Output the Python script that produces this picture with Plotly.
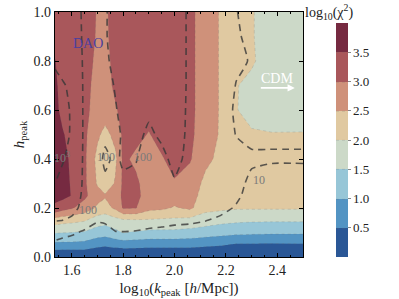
import numpy as np
import plotly.graph_objects as go

# log10(k_peak) grid and h_peak grid
log_k = [1.535, 1.565, 1.60, 1.65, 1.70, 1.73, 1.77, 1.80, 1.85, 1.90, 1.95,
         2.00, 2.06, 2.12, 2.18, 2.24, 2.30, 2.38, 2.50]
h_peak = [0.0, 0.05, 0.10, 0.15, 0.20, 0.25, 0.30, 0.40, 0.50, 0.60, 0.70, 0.80, 0.90, 1.00]

# filled field: log10(chi^2), one list per log_k column (bottom -> top)
log_chi2_cols = [
    [0.0, 0.86, 1.54, 2.30, 3.40, 3.65, 3.70, 3.75, 3.70, 3.65, 3.60, 3.52, 3.30, 3.25],
    [0.0, 0.85, 1.52, 2.20, 3.20, 3.65, 3.70, 3.68, 3.55, 3.35, 3.30, 3.30, 3.30, 3.30],
    [0.0, 0.85, 1.50, 2.15, 3.05, 3.48, 3.45, 3.40, 3.30, 3.30, 3.30, 3.30, 3.30, 3.30],
    [0.02, 0.82, 1.45, 2.05, 2.80, 3.10, 3.10, 3.10, 3.10, 3.10, 3.15, 3.20, 3.25, 3.25],
    [0.0, 0.64, 1.28, 1.74, 2.41, 2.70, 2.45, 2.35, 2.60, 2.85, 2.85, 2.90, 2.95, 2.97],
    [0.0, 0.58, 1.23, 1.68, 2.30, 2.55, 2.20, 2.10, 2.35, 2.75, 2.80, 2.85, 2.90, 2.92],
    [0.0, 0.67, 1.38, 1.83, 2.60, 2.75, 2.55, 2.40, 2.65, 2.95, 3.10, 3.15, 3.20, 3.20],
    [0.0, 0.72, 1.52, 1.93, 3.05, 3.10, 3.10, 3.10, 3.10, 3.15, 3.20, 3.25, 3.25, 3.25],
    [0.0, 0.70, 1.45, 1.95, 3.02, 3.15, 3.10, 2.90, 3.15, 3.30, 3.30, 3.30, 3.30, 3.30],
    [0.0, 0.67, 1.38, 1.95, 2.65, 2.75, 2.75, 2.80, 2.97, 3.20, 3.30, 3.30, 3.30, 3.30],
    [0.0, 0.67, 1.38, 1.92, 2.60, 2.85, 2.98, 2.95, 3.20, 3.30, 3.30, 3.30, 3.30, 3.30],
    [0.0, 0.67, 1.38, 1.90, 2.45, 2.75, 2.95, 3.20, 3.25, 3.25, 3.25, 3.25, 3.25, 3.25],
    [0.0, 0.66, 1.33, 1.85, 2.60, 2.70, 2.75, 3.05, 3.10, 3.10, 3.10, 3.10, 3.10, 3.10],
    [0.0, 0.60, 1.25, 1.75, 2.15, 2.30, 2.40, 2.60, 2.75, 2.80, 2.80, 2.80, 2.80, 2.80],
    [0.0, 0.55, 1.18, 1.65, 2.10, 2.25, 2.30, 2.40, 2.45, 2.45, 2.45, 2.45, 2.45, 2.45],
    [0.0, 0.45, 1.12, 1.60, 2.05, 2.15, 2.20, 2.20, 2.05, 2.02, 2.02, 2.15, 2.20, 2.20],
    [0.0, 0.45, 1.10, 1.57, 2.05, 2.15, 2.15, 2.15, 2.05, 1.85, 1.90, 2.05, 2.03, 2.03],
    [0.0, 0.44, 1.08, 1.56, 2.05, 2.15, 2.20, 2.15, 2.02, 1.80, 1.80, 1.80, 1.80, 1.80],
    [0.0, 0.45, 1.08, 1.56, 2.05, 2.15, 2.20, 2.15, 2.03, 1.75, 1.75, 1.75, 1.75, 1.75],
]

# dashed field: log10 of the second chi^2 (lines at 10, 100, 1000)
log_chi2_lines_cols = [
    [0.30, 0.80, 1.40, 2.05, 2.40, 2.70, 3.00, 3.20, 3.30, 3.30, 3.20, 2.90, 2.70, 2.60],
    [0.25, 0.75, 1.20, 2.00, 2.40, 2.60, 2.80, 3.05, 3.15, 3.15, 3.05, 2.80, 2.60, 2.50],
    [0.20, 0.70, 1.10, 1.85, 2.30, 2.50, 2.60, 2.80, 2.95, 2.95, 2.90, 2.70, 2.50, 2.40],
    [0.20, 0.60, 0.90, 1.35, 1.70, 1.80, 1.85, 1.85, 1.85, 1.85, 1.85, 1.85, 1.85, 1.85],
    [0.15, 0.45, 0.75, 1.05, 1.40, 1.60, 1.70, 1.80, 1.75, 1.70, 1.70, 1.70, 1.70, 1.70],
    [0.15, 0.45, 0.75, 1.10, 1.45, 1.65, 1.90, 2.10, 1.90, 1.80, 1.75, 1.90, 1.95, 1.95],
    [0.20, 0.55, 0.97, 1.25, 1.50, 1.70, 1.80, 1.90, 1.80, 1.95, 2.05, 2.15, 2.20, 2.20],
    [0.20, 0.55, 0.98, 1.25, 1.50, 1.70, 1.90, 2.08, 2.10, 2.20, 2.25, 2.30, 2.30, 2.30],
    [0.20, 0.55, 0.96, 1.25, 1.55, 1.70, 1.90, 2.02, 2.15, 2.35, 2.40, 2.40, 2.40, 2.40],
    [0.20, 0.50, 0.90, 1.20, 1.45, 1.60, 1.70, 1.80, 1.90, 2.10, 2.40, 2.40, 2.40, 2.40],
    [0.20, 0.50, 0.88, 1.15, 1.40, 1.55, 1.70, 1.85, 2.10, 2.30, 2.40, 2.40, 2.40, 2.40],
    [0.20, 0.50, 0.85, 1.10, 1.35, 1.60, 1.95, 2.15, 2.20, 2.25, 2.30, 2.30, 2.30, 2.30],
    [0.20, 0.50, 0.82, 1.08, 1.30, 1.50, 1.65, 1.85, 1.90, 1.90, 1.90, 1.90, 1.90, 1.90],
    [0.20, 0.45, 0.75, 1.02, 1.20, 1.35, 1.50, 1.60, 1.65, 1.65, 1.65, 1.65, 1.65, 1.65],
    [0.20, 0.40, 0.65, 0.90, 1.15, 1.30, 1.40, 1.50, 1.50, 1.50, 1.50, 1.50, 1.50, 1.50],
    [0.15, 0.35, 0.55, 0.80, 0.95, 1.10, 1.20, 1.30, 0.97, 0.85, 0.97, 1.14, 1.10, 1.02],
    [0.10, 0.30, 0.50, 0.65, 0.75, 0.80, 0.85, 1.10, 0.85, 0.70, 0.70, 0.95, 0.80, 0.80],
    [0.10, 0.30, 0.50, 0.60, 0.65, 0.60, 0.55, 1.10, 0.85, 0.60, 0.60, 0.60, 0.60, 0.60],
    [0.10, 0.30, 0.50, 0.60, 0.65, 0.60, 0.55, 1.10, 0.85, 0.60, 0.60, 0.60, 0.60, 0.60],
]

band_colors = ["#2a5796", "#5394c3", "#97c6d7", "#ccd9c8",
               "#e0c9a1", "#cf917a", "#a9575b", "#762a41"]
cbar_ticks = [0.5, 1.0, 1.5, 2.0, 2.5, 3.0, 3.5]

line_labels = ["10<sup>3</sup>", "100", "100", "100", "10"]
line_label_x = [1.562, 1.733, 1.878, 1.665, 2.33]
line_label_y = [0.408, 0.408, 0.408, 0.19, 0.315]

z_fill = np.array(log_chi2_cols).T
z_lines = np.array(log_chi2_lines_cols).T

n = len(band_colors)
colorscale = [[i / (n - 1), c] for i, c in enumerate(band_colors)]

SERIF = "Liberation Serif"

fig = go.Figure()
fig.add_trace(go.Contour(
    x=log_k, y=h_peak, z=z_fill,
    contours=dict(start=0.5, end=3.5, size=0.5, coloring="fill"),
    colorscale=colorscale, zmin=0, zmax=4, zauto=False,
    line=dict(width=0.6, color="rgba(110,110,110,0.35)", dash="dot", smoothing=0),
    colorbar=dict(
        x=1.133, xanchor="left", xpad=0, ypad=0,
        y=0, yanchor="bottom", len=0.955, lenmode="fraction",
        thickness=12, outlinewidth=0,
        tickvals=cbar_ticks, ticktext=[f"{t:.1f}" for t in cbar_ticks],
        ticks="outside", ticklen=3, tickcolor="#888",
        tickfont=dict(family=SERIF, size=13, color="#222"),
    ),
    hoverinfo="skip",
))
fig.add_trace(go.Contour(
    x=log_k, y=h_peak, z=z_lines,
    contours=dict(start=1, end=3, size=1, coloring="lines", showlabels=False),
    line=dict(width=1.6, color="rgba(55,55,55,0.8)", dash="7px,5px", smoothing=0.5),
    colorscale=[[0, "rgba(55,55,55,0.8)"], [1, "rgba(55,55,55,0.8)"]],
    showscale=False,
    hoverinfo="skip",
))

for t, lx, ly in zip(line_labels, line_label_x, line_label_y):
    fig.add_annotation(x=lx, y=ly, text=t, showarrow=False,
                       font=dict(family=SERIF, size=12, color="#7a7a7a"))

fig.add_annotation(x=1.662, y=0.873, text="DAO", showarrow=False,
                   font=dict(family=SERIF, size=14, color="#4a3f9f"))
fig.add_annotation(x=2.398, y=0.728, text="CDM", showarrow=False,
                   font=dict(family=SERIF, size=14, color="white"))
fig.add_annotation(x=2.468, y=0.69, ax=2.33, ay=0.69, xref="x", yref="y",
                   axref="x", ayref="y", text="", showarrow=True,
                   arrowhead=2, arrowsize=0.8, arrowwidth=1.8, arrowcolor="white")

fig.add_annotation(xref="paper", yref="paper", x=1.21, y=1.0, yanchor="middle",
                   text="log<sub>10</sub>(χ<sup>2</sup>)", showarrow=False,
                   font=dict(family=SERIF, size=14, color="#222"))

axis_common = dict(showgrid=False, zeroline=False, showline=True, linecolor="black",
                   linewidth=1.3, mirror="ticks", ticks="inside", ticklen=4,
                   tickcolor="black", automargin=False,
                   tickfont=dict(family=SERIF, size=14, color="#222"))

fig.update_layout(
    width=399, height=299,
    margin=dict(l=55, r=96, t=12, b=42, autoexpand=False),
    paper_bgcolor="white", plot_bgcolor="white",
    xaxis=dict(range=[1.535, 2.5], tickvals=[1.6, 1.8, 2.0, 2.2, 2.4],
               ticktext=["1.6", "1.8", "2.0", "2.2", "2.4"],
               minor=dict(ticks="inside", ticklen=2, dtick=0.05, tick0=1.6, tickcolor="black"),
               title=dict(text="log<sub>10</sub>(<i>k</i><sub>peak</sub> [<i>h</i>/Mpc])",
                          font=dict(family=SERIF, size=15, color="#222"), standoff=5),
               **axis_common),
    yaxis=dict(range=[0, 1], tickvals=[0, 0.2, 0.4, 0.6, 0.8, 1.0],
               ticktext=["0.0", "0.2", "0.4", "0.6", "0.8", "1.0"],
               title=dict(text="<i>h</i><sub>peak</sub>",
                          font=dict(family=SERIF, size=15, color="#222"), standoff=5),
               **axis_common),
    showlegend=False,
)

# remove the browser's default body margin so the figure starts at the page corner
fig.write_html("out.html", config={"displayModeBar": False},
               post_script="document.body.style.margin='0px';")
